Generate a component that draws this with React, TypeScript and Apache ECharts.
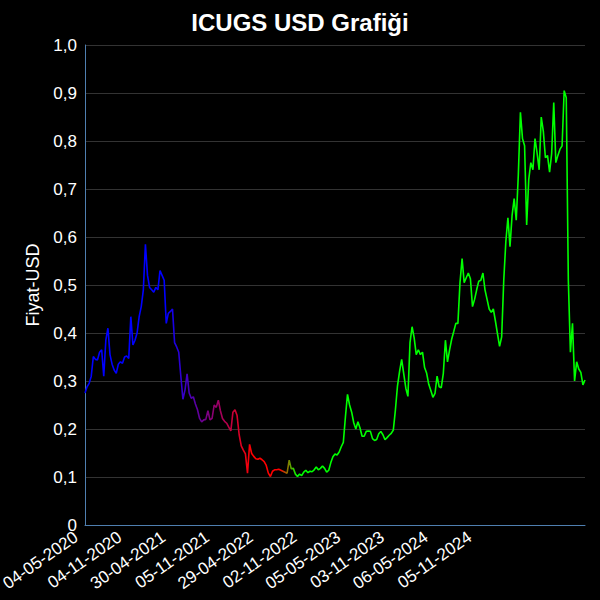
import React, { useEffect, useRef } from "react";
import * as echarts from "echarts";

// Tick labels (one every LABEL_STEP points)
const tickLabels = [
  "04-05-2020", "04-11-2020", "30-04-2021", "05-11-2021", "29-04-2022",
  "02-11-2022", "05-05-2023", "03-11-2023", "06-05-2024", "05-11-2024",
];
const LABEL_STEP = 21;

// Price in USD, sampled at regular steps (approx. every 6 trading days)
const prices = [
  0.275, 0.288, 0.295, 0.31, 0.351, 0.345, 0.344, 0.36, 0.365, 0.31,
  0.385, 0.41, 0.355, 0.335, 0.323, 0.316, 0.335, 0.34, 0.337, 0.35,
  0.352, 0.347, 0.434, 0.375, 0.385, 0.4, 0.434, 0.455, 0.49, 0.585,
  0.52, 0.495, 0.49, 0.485, 0.495, 0.49, 0.53, 0.52, 0.51, 0.42,
  0.441, 0.445, 0.45, 0.38, 0.371, 0.36, 0.31, 0.262, 0.281, 0.315,
  0.275, 0.264, 0.267, 0.252, 0.24, 0.222, 0.215, 0.219, 0.22, 0.238,
  0.219, 0.222, 0.25, 0.245, 0.26, 0.238, 0.222, 0.216, 0.212, 0.204,
  0.196, 0.235, 0.24, 0.228, 0.188, 0.165, 0.156, 0.148, 0.108, 0.168,
  0.149, 0.143, 0.138, 0.137, 0.139, 0.136, 0.132, 0.124, 0.108, 0.101,
  0.112, 0.115, 0.115, 0.116, 0.114, 0.112, 0.11, 0.108, 0.135, 0.117,
  0.118, 0.106, 0.101, 0.106, 0.103, 0.11, 0.114, 0.109, 0.112, 0.111,
  0.115, 0.121, 0.115, 0.118, 0.123, 0.118, 0.11, 0.114, 0.13, 0.142,
  0.148, 0.146, 0.152, 0.163, 0.172, 0.225, 0.272, 0.25, 0.235, 0.213,
  0.2, 0.215, 0.202, 0.185, 0.185, 0.195, 0.196, 0.195, 0.18, 0.176,
  0.178, 0.19, 0.195, 0.188, 0.178, 0.182, 0.187, 0.191, 0.198, 0.24,
  0.29, 0.32, 0.345, 0.315, 0.285, 0.268, 0.38, 0.413, 0.39, 0.355,
  0.365, 0.355, 0.36, 0.328, 0.316, 0.293, 0.28, 0.266, 0.274, 0.31,
  0.288, 0.286, 0.316, 0.385, 0.34, 0.365, 0.387, 0.403, 0.42, 0.42,
  0.505, 0.555, 0.505, 0.515, 0.525, 0.513, 0.455, 0.47, 0.49, 0.508,
  0.51, 0.525, 0.49, 0.47, 0.45, 0.443, 0.45, 0.425, 0.398, 0.372,
  0.392, 0.51, 0.59, 0.64, 0.58, 0.645, 0.68, 0.635, 0.73, 0.86,
  0.805, 0.79, 0.625, 0.72, 0.755, 0.74, 0.805, 0.775, 0.74, 0.85,
  0.82, 0.765, 0.77, 0.735, 0.774, 0.88, 0.755, 0.77, 0.783, 0.79,
  0.905, 0.89, 0.51, 0.36, 0.42, 0.3, 0.34, 0.325, 0.318, 0.292,
  0.302,
];

const FONT = "'Liberation Sans', Arial, sans-serif";

export default function App() {
  const ref = useRef<HTMLDivElement>(null);

  useEffect(() => {
    if (!ref.current) return;
    const chart = echarts.init(ref.current, undefined, { renderer: "svg" });
    const lastIndex = prices.length - 1;
    const option = {
      animation: false,
      backgroundColor: "#000000",
      textStyle: { fontFamily: FONT },
      title: {
        text: "ICUGS USD Grafiği",
        left: "center",
        top: 5,
        textStyle: { color: "#ffffff", fontSize: 24, fontWeight: "bold", fontFamily: FONT },
      },
      grid: {
        left: 85,
        right: 15,
        top: 45,
        bottom: 75,
        containLabel: false,
        outerBoundsMode: "none",
      },
      xAxis: {
        type: "value",
        min: 0,
        max: lastIndex,
        interval: LABEL_STEP,
        axisLine: { show: true, lineStyle: { color: "#4f7fb0", width: 1 } },
        axisTick: { show: false },
        splitLine: { show: false },
        axisLabel: {
          show: true,
          color: "#ffffff",
          fontSize: 17,
          fontFamily: FONT,
          rotate: 35,
          margin: 4,
          padding: [0, 11, 0, 0],
          showMaxLabel: false,
          hideOverlap: false,
          formatter: (v: number) => {
            if (v % LABEL_STEP !== 0) return "";
            const k = v / LABEL_STEP;
            return k < tickLabels.length ? tickLabels[k] : "";
          },
        },
      },
      yAxis: {
        type: "value",
        min: 0,
        max: 1,
        interval: 0.1,
        name: "Fiyat-USD",
        nameLocation: "middle",
        nameRotate: 90,
        nameGap: 42,
        nameTextStyle: { color: "#ffffff", fontSize: 18, fontFamily: FONT },
        axisLine: { show: true, lineStyle: { color: "#4f7fb0", width: 1 } },
        axisTick: { show: false },
        splitLine: { show: true, lineStyle: { color: "#333333", width: 1 } },
        axisLabel: {
          color: "#ffffff",
          fontSize: 17,
          fontFamily: FONT,
          margin: 8,
          formatter: (v: number) => (v === 0 ? "0" : v.toFixed(1).replace(".", ",")),
        },
      },
      series: [
        {
          type: "line",
          data: prices.map((p, i) => [i, p]),
          showSymbol: false,
          symbol: "none",
          lineStyle: {
            width: 1.6,
            color: new echarts.graphic.LinearGradient(0, 0, 1, 0, [
              { offset: 0, color: "#0000ff" },
              { offset: 0.16, color: "#0000ff" },
              { offset: 0.334, color: "#ff0000" },
              { offset: 0.39, color: "#ff0000" },
              { offset: 0.424, color: "#00ff00" },
              { offset: 1, color: "#00ff00" },
            ]),
          },
        },
      ],
    };
    chart.setOption(option as any);
    return () => chart.dispose();
  }, []);

  return (
    <div
      ref={ref}
      style={{ position: "fixed", left: 0, top: 0, width: 600, height: 600 }}
    />
  );
}
